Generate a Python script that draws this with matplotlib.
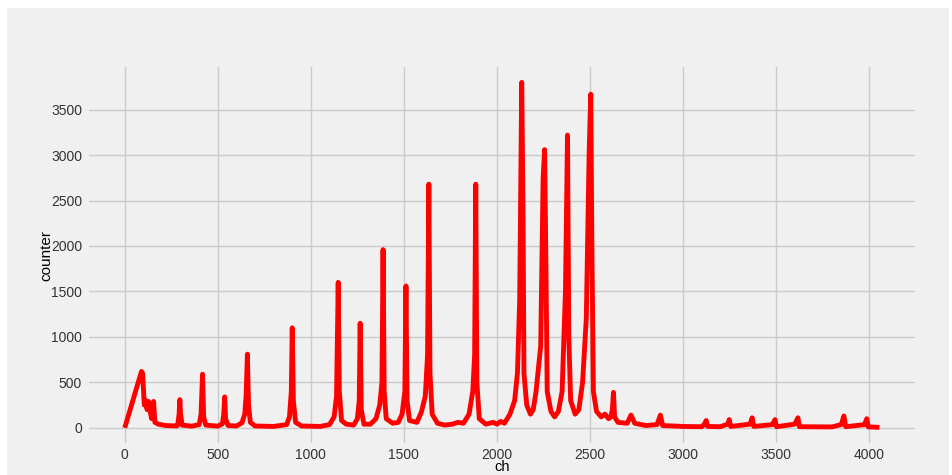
import numpy as np
import matplotlib.pyplot as plt
from matplotlib.patches import Rectangle

plt.style.use('fivethirtyeight')
plt.rcParams['font.family'] = ['Liberation Sans', 'DejaVu Sans']

# 能谱折线的顶点 (道址, 计数)
ch = [0, 90, 96, 105, 112, 120, 128, 136, 145, 155, 162, 180, 220, 280,
      285, 292, 296, 300, 308, 360,
      400, 410, 418, 424, 435, 500,
      525, 532, 537, 542, 555, 600,
      630, 645, 652, 659, 665, 675, 700, 800,
      870, 885, 895, 900, 906, 918, 950, 1050,
      1100, 1125, 1138, 1147, 1153, 1165, 1190, 1230,
      1250, 1260, 1265, 1271, 1285, 1320,
      1350, 1370, 1382, 1388, 1394, 1405, 1440,
      1470, 1490, 1505, 1511, 1517, 1530, 1570,
      1595, 1615, 1627, 1634, 1640, 1652, 1680, 1720, 1760, 1790, 1820,
      1850, 1870, 1880, 1886, 1892, 1905, 1940, 1980, 2000, 2020, 2040,
      2070, 2095, 2110, 2122, 2133, 2140, 2145, 2160, 2180, 2195,
      2210, 2235, 2248, 2256, 2262, 2270, 2290, 2310,
      2330, 2350, 2368, 2379, 2386, 2396, 2420,
      2440, 2460, 2480, 2495, 2504, 2510, 2518, 2535, 2560, 2580,
      2600, 2612, 2620, 2626, 2632, 2650, 2700, 2720, 2740, 2800,
      2860, 2878, 2890, 3000, 3100, 3115, 3124, 3132, 3200,
      3240, 3248, 3256, 3360, 3371, 3380, 3480, 3494, 3502,
      3600, 3617, 3625, 3800, 3850, 3864, 3874, 3975, 3987, 3995, 4055]
counter = [0, 620, 600, 250, 300, 200, 290, 180, 100, 290, 60, 40, 25, 20,
           35, 150, 310, 150, 30, 18,
           35, 150, 590, 120, 30, 18,
           45, 150, 340, 100, 25, 20,
           55, 150, 350, 810, 250, 60, 20, 15,
           35, 120, 400, 1100, 300, 60, 20, 15,
           35, 120, 350, 1600, 400, 80, 40, 30,
           100, 300, 1150, 200, 40, 40,
           100, 250, 500, 1960, 400, 100, 50,
           60, 150, 400, 1560, 300, 80, 60,
           180, 350, 800, 2680, 600, 150, 50, 30, 40, 60, 50,
           150, 400, 800, 2680, 500, 100, 40, 60, 40, 70, 50,
           150, 300, 600, 1400, 3800, 2400, 600, 250, 150, 200,
           400, 900, 2750, 3060, 2000, 400, 180, 120,
           180, 400, 1500, 3220, 1000, 300, 150,
           200, 500, 1200, 3000, 3670, 2000, 400, 180, 120, 150,
           100, 120, 200, 390, 120, 60, 50, 140, 50, 25,
           35, 140, 25, 15, 12, 40, 80, 15, 12,
           40, 90, 15, 40, 110, 15, 35, 90, 12,
           40, 110, 12, 10, 35, 130, 12, 35, 100, 10, 5]

fig = plt.figure(figsize=(9.52, 4.75), dpi=100, facecolor='white')
# 灰色底板，左、上留白边
fig.patches.append(Rectangle((7 / 952, 0), 942 / 952, 467 / 475,
                             transform=fig.transFigure, facecolor='#f0f0f0',
                             edgecolor='none', zorder=-10))
ax = fig.add_axes([0.0914, 0.063, 0.872, 0.800])
ax.set_facecolor('#f0f0f0')

ax.plot(ch, counter, color='red', linewidth=3.5)

ax.set_xticks(np.arange(0, 4001, 500))
ax.set_yticks(np.arange(0, 3501, 500))
ax.tick_params(labelsize=10, colors='#333333')
ax.tick_params(axis='x', pad=2)
ax.set_xlabel('ch', fontsize=10.5, labelpad=-1)
ax.set_ylabel('counter', fontsize=11, labelpad=-2)
ax.grid(color='#cbcbcb', linewidth=1)

fig.savefig('out.png', dpi=100, facecolor=fig.get_facecolor())
